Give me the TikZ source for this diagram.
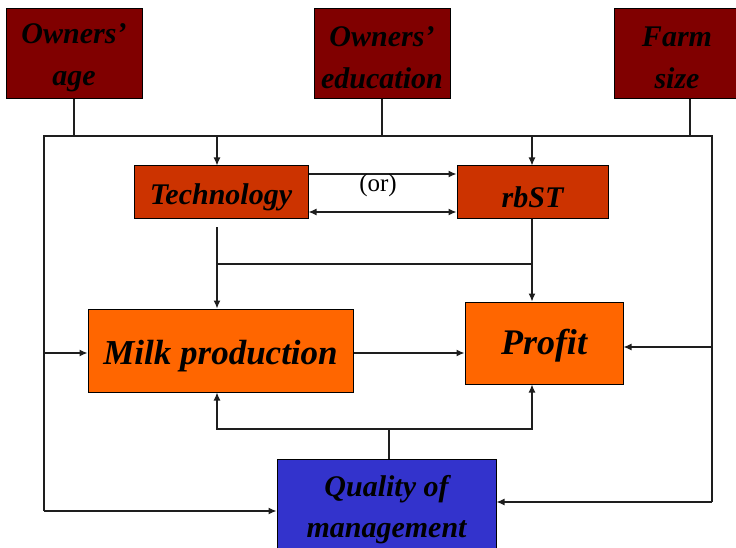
\documentclass[tikz,border=0pt]{standalone}
\usepackage{fontspec}
\setmainfont{Liberation Serif}
\usetikzlibrary{arrows.meta,calc}
\definecolor{darkred}{HTML}{800000}
\definecolor{rust}{HTML}{CC3300}
\definecolor{orng}{HTML}{FF6600}
\definecolor{blu}{HTML}{3333CC}
\definecolor{linegray}{HTML}{1E1E1E}
\tikzset{
  box/.style={draw=black, line width=1pt, inner sep=0pt, anchor=center},
  txt/.style={inner sep=0pt, align=center, anchor=center},
  topbox/.style={box, fill=darkred, minimum width=136pt, minimum height=90pt},
  toptxt/.style={txt, font=\fontsize{30}{42}\selectfont\bfseries\itshape},
  midbox/.style={box, fill=rust, minimum height=53pt},
  midtxt/.style={txt, font=\fontsize{30}{36}\selectfont\bfseries\itshape},
  outbox/.style={box, fill=orng},
  conn/.style={draw=linegray, line width=1.2pt},
  tip/.tip={Latex[length=8pt,width=7pt]},
  arr/.style={conn, -tip},
  arrb/.style={conn, tip-tip}
}
\begin{document}
\begin{tikzpicture}[x=1pt,y=-1pt]
\useasboundingbox (0,0) rectangle (736,548);
\clip (0,0) rectangle (736,548);
% top boxes
\node[topbox] (age) at (74,54) {};
\node[toptxt] (agetxt) at ($(age.center)+(0,4)$) {Owners'\\age};
\node[topbox] (edu) at (382,54) {};
\node[toptxt] (edutxt) at ($(edu.center)+(0,4)$) {Owners'\\education};
\node[topbox, minimum width=126pt] (farm) at (677,54) {};
\node[toptxt] (farmtxt) at ($(farm.center)+(0,4)$) {Farm\\size};
% middle boxes
\node[midbox, minimum width=174pt] (tech) at (221,192.5) {};
\node[midtxt] (techtxt) at ($(tech.center)+(0,5)$) {Technology};
\node[midbox, minimum width=151pt] (rbst) at (532.5,192.5) {};
\node[midtxt] (rbsttxt) at ($(rbst.center)+(0,5)$) {rbST};
\node[outbox, minimum width=265pt, minimum height=83pt] (milk) at (220.5,350.5) {};
\node[txt, font=\fontsize{35}{40}\selectfont\bfseries\itshape] (milktxt) at ($(milk.center)+(0,6)$) {Milk production};
\node[outbox, minimum width=158pt, minimum height=82pt] (profit) at (544,343) {};
\node[txt, font=\fontsize{36}{40}\selectfont\bfseries\itshape] (profittxt) at ($(profit.center)+(0,3)$) {Profit};
\node[box, fill=blu, minimum width=219pt, minimum height=95pt] (qual) at (386.5,506.5) {};
\node[txt, font=\fontsize{30}{41}\selectfont\bfseries\itshape] (qualtxt) at ($(qual.center)+(0,3)$) {Quality of\\management};
% frame coordinates
\coordinate (tl) at (44,136);
\coordinate (tr) at (712,136);
\coordinate (bl) at (44,511);
\coordinate (br) at (712,502);
\coordinate (ta) at (217,136);
\coordinate (ra) at (532,136);
\coordinate (ya) at (0,174);
\coordinate (yb) at (0,212);
\coordinate (td) at (217,227);
\coordinate (hm) at (217,264);
\coordinate (hr) at (532,264);
\coordinate (ym) at (0,353);
\coordinate (yp) at (0,347);
\coordinate (qs) at (389,429);
\coordinate (ql) at (217,429);
\coordinate (qr) at (532,429);
% top drops
\draw[conn] (age.south) -- (age.south |- tl);
\draw[conn] (edu.south) -- (edu.south |- tl);
\draw[conn] (farm.south -| 690,0) -- (690,136);
\draw[conn] (bl) -- (tl) -- (tr) -- (br);
% into technology and rbST
\draw[arr] (ta) -- (ta |- tech.north);
\draw[arr] (ra) -- (ra |- rbst.north);
\draw[arr] (tech.east |- ya) -- (rbst.west |- ya);
\draw[arrb] (tech.east |- yb) -- (rbst.west |- yb);
\node[font=\fontsize{25}{28}\selectfont] (or) at (378,185) {(or)};
% down to milk and profit
\draw[arr] (td) -- (td |- milk.north);
\draw[conn] (hm) -- (hr);
\draw[arr] (rbst.south -| hr) -- (hr |- profit.north);
% left and right feeds
\draw[arr] (tl |- ym) -- (milk.west |- ym);
\draw[arr] (milk.east |- ym) -- (profit.west |- ym);
\draw[arr] (tr |- yp) -- (profit.east |- yp);
% quality of management
\draw[conn] (qual.north -| qs) -- (qs);
\draw[arr] (qs) -- (ql) -- (ql |- milk.south);
\draw[arr] (qs) -- (qr) -- (qr |- profit.south);
\draw[arr] (bl) -- (bl -| qual.west);
\draw[arr] (br) -- (br -| qual.east);
\end{tikzpicture}
\end{document}
